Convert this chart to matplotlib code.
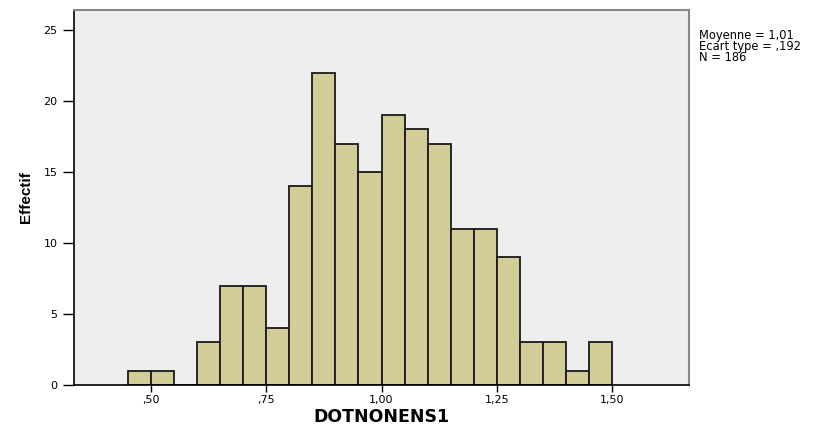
import matplotlib
matplotlib.use("Agg")
import matplotlib.pyplot as plt
import numpy as np

bin_left = [0.45, 0.50, 0.55, 0.60, 0.65, 0.70, 0.75, 0.80, 0.85, 0.90,
            0.95, 1.00, 1.05, 1.10, 1.15, 1.20, 1.25, 1.30, 1.35, 1.40, 1.45]
counts = [1, 1, 0, 3, 7, 7, 4, 14, 22, 17, 15, 19, 18, 17, 11, 11, 9, 3, 3, 1, 3]
bin_width = 0.05
xticks = [0.50, 0.75, 1.00, 1.25, 1.50]
xticklabels = [",50", ",75", "1,00", "1,25", "1,50"]
yticks = [0, 5, 10, 15, 20, 25]
stats_text = "Moyenne = 1,01\nEcart type = ,192\nN = 186"

plt.rcParams['font.family'] = ['DejaVu Sans']

fig = plt.figure(figsize=(8.21, 4.25), dpi=100)
ax = fig.add_axes([74/821, 40/425, 615/821, 375/425])
ax.set_facecolor('#EEEEEE')

ax.bar(bin_left, counts, width=bin_width, align='edge', color='#D2CD96',
       edgecolor='#1a1a1a', linewidth=1.3, zorder=2)

ax.set_xlim(0.333, 1.667)
ax.set_ylim(0, 26.4)
ax.set_xticks(xticks)
ax.set_xticklabels(xticklabels, fontsize=8)
ax.set_yticks(yticks)
ax.set_yticklabels([str(v) for v in yticks], fontsize=8)
ax.tick_params(axis='x', direction='out', length=5, width=1, color='black', pad=2)
ax.tick_params(axis='y', direction='out', length=8, width=1, color='black', pad=4)

for s in ['left', 'bottom']:
    ax.spines[s].set_color('black')
    ax.spines[s].set_linewidth(1.2)
for s in ['top', 'right']:
    ax.spines[s].set_color('#888888')
    ax.spines[s].set_linewidth(1.5)

ax.set_xlabel("DOTNONENS1", fontsize=12.5, fontweight='bold', labelpad=2)
ax.set_ylabel("Effectif", fontsize=11, fontweight='bold', labelpad=7,
              family=['Liberation Sans Narrow', 'Liberation Sans', 'DejaVu Sans'])

fig.text(699/821, 1 - 29/425, stats_text, fontsize=8.3, va='top', ha='left',
         linespacing=0.78)

fig.savefig("out.png", dpi=100)
